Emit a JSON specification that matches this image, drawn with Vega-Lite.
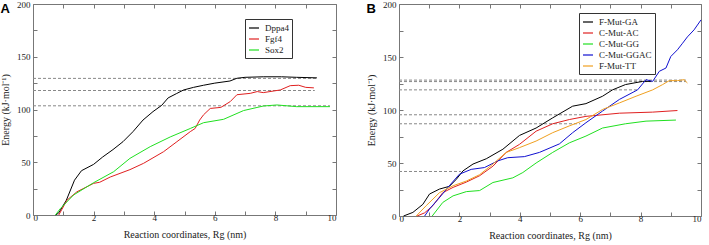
{
  "$schema": "https://vega.github.io/schema/vega-lite/v6.json",
  "background": "white",
  "padding": {"left": 0, "top": -1, "right": 0, "bottom": 0},
  "spacing": 29,
  "resolve": {"scale": {"color": "independent"}, "legend": {"color": "independent"}},
  "config": {
    "font": "Liberation Serif, Times New Roman, serif",
    "view": {"stroke": "#777", "strokeWidth": 1},
    "axis": {
      "grid": false,
      "domain": false,
      "tickColor": "#777",
      "tickSize": -4,
      "labelFont": "Liberation Serif, Times New Roman, serif",
      "labelFontSize": 9,
      "labelColor": "#222",
      "titleFont": "Liberation Serif, Times New Roman, serif",
      "titleFontSize": 10,
      "titleFontWeight": "normal",
      "titleColor": "#222"
    },
    "axisX": {"labelPadding": 2, "titlePadding": 7},
    "axisY": {"labelPadding": 7, "titlePadding": 6},
    "legend": {
      "labelFont": "Liberation Serif, Times New Roman, serif",
      "labelFontSize": 9,
      "labelColor": "#222",
      "symbolType": "stroke",
      "symbolSize": 100,
      "symbolStrokeWidth": 1.2,
      "strokeColor": "#333",
      "fillColor": "white",
      "padding": 3,
      "rowPadding": 0,
      "labelOffset": 5,
      "titleFontSize": 0
    },
    "title": {"font": "Liberation Sans", "fontWeight": "bold", "fontSize": 13, "color": "#000"}
  },
  "datasets": {
    "A": [
      {"s": "Dppa4", "x": 0.75, "y": 0}, {"s": "Dppa4", "x": 0.85, "y": 2}, {"s": "Dppa4", "x": 1.1, "y": 14}, {"s": "Dppa4", "x": 1.37, "y": 33}, {"s": "Dppa4", "x": 1.6, "y": 42}, {"s": "Dppa4", "x": 2.0, "y": 48}, {"s": "Dppa4", "x": 2.3, "y": 55}, {"s": "Dppa4", "x": 2.64, "y": 62}, {"s": "Dppa4", "x": 2.97, "y": 69.5}, {"s": "Dppa4", "x": 3.3, "y": 79}, {"s": "Dppa4", "x": 3.63, "y": 90}, {"s": "Dppa4", "x": 3.96, "y": 98}, {"s": "Dppa4", "x": 4.25, "y": 104}, {"s": "Dppa4", "x": 4.46, "y": 111}, {"s": "Dppa4", "x": 4.73, "y": 115}, {"s": "Dppa4", "x": 4.97, "y": 118.5}, {"s": "Dppa4", "x": 5.3, "y": 121}, {"s": "Dppa4", "x": 5.63, "y": 123}, {"s": "Dppa4", "x": 6.0, "y": 125}, {"s": "Dppa4", "x": 6.5, "y": 127}, {"s": "Dppa4", "x": 6.73, "y": 129.6}, {"s": "Dppa4", "x": 7.0, "y": 130.5}, {"s": "Dppa4", "x": 7.6, "y": 131}, {"s": "Dppa4", "x": 8.2, "y": 131}, {"s": "Dppa4", "x": 8.7, "y": 130.5}, {"s": "Dppa4", "x": 9.37, "y": 130},
      {"s": "Fgf4", "x": 0.85, "y": 0}, {"s": "Fgf4", "x": 1.12, "y": 14}, {"s": "Fgf4", "x": 1.45, "y": 22}, {"s": "Fgf4", "x": 2.0, "y": 30}, {"s": "Fgf4", "x": 2.2, "y": 31}, {"s": "Fgf4", "x": 2.55, "y": 36}, {"s": "Fgf4", "x": 3.2, "y": 43}, {"s": "Fgf4", "x": 3.65, "y": 49}, {"s": "Fgf4", "x": 4.31, "y": 60}, {"s": "Fgf4", "x": 4.75, "y": 69.5}, {"s": "Fgf4", "x": 5.19, "y": 79}, {"s": "Fgf4", "x": 5.35, "y": 82}, {"s": "Fgf4", "x": 5.5, "y": 90}, {"s": "Fgf4", "x": 5.63, "y": 95}, {"s": "Fgf4", "x": 5.85, "y": 101}, {"s": "Fgf4", "x": 6.2, "y": 102}, {"s": "Fgf4", "x": 6.51, "y": 107.5}, {"s": "Fgf4", "x": 6.73, "y": 114}, {"s": "Fgf4", "x": 7.17, "y": 115.3}, {"s": "Fgf4", "x": 7.4, "y": 117}, {"s": "Fgf4", "x": 7.6, "y": 116}, {"s": "Fgf4", "x": 8.16, "y": 118.5}, {"s": "Fgf4", "x": 8.49, "y": 122.6}, {"s": "Fgf4", "x": 8.77, "y": 123}, {"s": "Fgf4", "x": 9.0, "y": 121}, {"s": "Fgf4", "x": 9.27, "y": 120.5},
      {"s": "Sox2", "x": 0.74, "y": 0}, {"s": "Sox2", "x": 0.9, "y": 6}, {"s": "Sox2", "x": 1.34, "y": 19}, {"s": "Sox2", "x": 2.0, "y": 30.6}, {"s": "Sox2", "x": 2.66, "y": 41}, {"s": "Sox2", "x": 3.2, "y": 53.7}, {"s": "Sox2", "x": 3.87, "y": 64.8}, {"s": "Sox2", "x": 4.53, "y": 74}, {"s": "Sox2", "x": 5.19, "y": 82}, {"s": "Sox2", "x": 5.63, "y": 87.5}, {"s": "Sox2", "x": 6.29, "y": 90.7}, {"s": "Sox2", "x": 6.95, "y": 99}, {"s": "Sox2", "x": 7.6, "y": 103.3}, {"s": "Sox2", "x": 8.05, "y": 104.3}, {"s": "Sox2", "x": 8.7, "y": 102.7}, {"s": "Sox2", "x": 9.8, "y": 102.7}
    ],
    "refA": [
      {"x0": 0, "x1": 9.4, "y": 129.5},
      {"x0": 0, "x1": 9.3, "y": 118},
      {"x0": 0, "x1": 9.8, "y": 103.5}
    ],
    "B": [
      {"s": "F-Mut-GA", "x": 0.15, "y": 0}, {"s": "F-Mut-GA", "x": 0.46, "y": 3.4}, {"s": "F-Mut-GA", "x": 0.79, "y": 11}, {"s": "F-Mut-GA", "x": 1.01, "y": 20.7}, {"s": "F-Mut-GA", "x": 1.34, "y": 25.4}, {"s": "F-Mut-GA", "x": 1.67, "y": 28}, {"s": "F-Mut-GA", "x": 1.9, "y": 34.7}, {"s": "F-Mut-GA", "x": 2.12, "y": 42.6}, {"s": "F-Mut-GA", "x": 2.45, "y": 49}, {"s": "F-Mut-GA", "x": 2.89, "y": 54}, {"s": "F-Mut-GA", "x": 3.44, "y": 63}, {"s": "F-Mut-GA", "x": 3.99, "y": 76}, {"s": "F-Mut-GA", "x": 4.54, "y": 83}, {"s": "F-Mut-GA", "x": 5.09, "y": 92.6}, {"s": "F-Mut-GA", "x": 5.75, "y": 103.6}, {"s": "F-Mut-GA", "x": 6.19, "y": 106}, {"s": "F-Mut-GA", "x": 6.74, "y": 113}, {"s": "F-Mut-GA", "x": 7.07, "y": 119}, {"s": "F-Mut-GA", "x": 7.5, "y": 124}, {"s": "F-Mut-GA", "x": 8.07, "y": 127}, {"s": "F-Mut-GA", "x": 8.34, "y": 127},
      {"s": "C-Mut-AC", "x": 0.6, "y": 0}, {"s": "C-Mut-AC", "x": 0.85, "y": 3}, {"s": "C-Mut-AC", "x": 1.12, "y": 9.7}, {"s": "C-Mut-AC", "x": 1.45, "y": 22}, {"s": "C-Mut-AC", "x": 1.79, "y": 27}, {"s": "C-Mut-AC", "x": 2.23, "y": 32}, {"s": "C-Mut-AC", "x": 2.67, "y": 38}, {"s": "C-Mut-AC", "x": 3.11, "y": 47}, {"s": "C-Mut-AC", "x": 3.55, "y": 60}, {"s": "C-Mut-AC", "x": 3.99, "y": 67.6}, {"s": "C-Mut-AC", "x": 4.54, "y": 80}, {"s": "C-Mut-AC", "x": 5.09, "y": 87}, {"s": "C-Mut-AC", "x": 5.64, "y": 91}, {"s": "C-Mut-AC", "x": 6.19, "y": 94}, {"s": "C-Mut-AC", "x": 7.3, "y": 97}, {"s": "C-Mut-AC", "x": 8.4, "y": 98}, {"s": "C-Mut-AC", "x": 9.22, "y": 99.5},
      {"s": "C-Mut-GG", "x": 1.1, "y": 0}, {"s": "C-Mut-GG", "x": 1.45, "y": 12.8}, {"s": "C-Mut-GG", "x": 1.79, "y": 19}, {"s": "C-Mut-GG", "x": 2.23, "y": 23}, {"s": "C-Mut-GG", "x": 2.67, "y": 24}, {"s": "C-Mut-GG", "x": 3.11, "y": 31.6}, {"s": "C-Mut-GG", "x": 3.77, "y": 36}, {"s": "C-Mut-GG", "x": 4.1, "y": 41}, {"s": "C-Mut-GG", "x": 4.54, "y": 50}, {"s": "C-Mut-GG", "x": 5.09, "y": 60}, {"s": "C-Mut-GG", "x": 5.64, "y": 69}, {"s": "C-Mut-GG", "x": 6.19, "y": 75.4}, {"s": "C-Mut-GG", "x": 6.74, "y": 83}, {"s": "C-Mut-GG", "x": 7.5, "y": 87}, {"s": "C-Mut-GG", "x": 8.18, "y": 89.5}, {"s": "C-Mut-GG", "x": 9.17, "y": 90.5},
      {"s": "C-Mut-GGAC", "x": 0.85, "y": 0}, {"s": "C-Mut-GGAC", "x": 1.01, "y": 6.6}, {"s": "C-Mut-GGAC", "x": 1.39, "y": 19}, {"s": "C-Mut-GGAC", "x": 1.62, "y": 27}, {"s": "C-Mut-GGAC", "x": 2.0, "y": 39.4}, {"s": "C-Mut-GGAC", "x": 2.39, "y": 44}, {"s": "C-Mut-GGAC", "x": 2.83, "y": 45.7}, {"s": "C-Mut-GGAC", "x": 3.27, "y": 52}, {"s": "C-Mut-GGAC", "x": 3.6, "y": 55}, {"s": "C-Mut-GGAC", "x": 4.15, "y": 56}, {"s": "C-Mut-GGAC", "x": 4.65, "y": 60}, {"s": "C-Mut-GGAC", "x": 5.31, "y": 68}, {"s": "C-Mut-GGAC", "x": 5.75, "y": 78.6}, {"s": "C-Mut-GGAC", "x": 6.19, "y": 88}, {"s": "C-Mut-GGAC", "x": 6.74, "y": 99}, {"s": "C-Mut-GGAC", "x": 7.3, "y": 110}, {"s": "C-Mut-GGAC", "x": 7.9, "y": 119}, {"s": "C-Mut-GGAC", "x": 8.18, "y": 128.6}, {"s": "C-Mut-GGAC", "x": 8.4, "y": 127}, {"s": "C-Mut-GGAC", "x": 8.62, "y": 136.5}, {"s": "C-Mut-GGAC", "x": 8.84, "y": 139.6}, {"s": "C-Mut-GGAC", "x": 9.0, "y": 150.5}, {"s": "C-Mut-GGAC", "x": 9.22, "y": 156.8}, {"s": "C-Mut-GGAC", "x": 9.39, "y": 163}, {"s": "C-Mut-GGAC", "x": 9.55, "y": 169}, {"s": "C-Mut-GGAC", "x": 9.77, "y": 175.6}, {"s": "C-Mut-GGAC", "x": 10.0, "y": 185},
      {"s": "F-Mut-TT", "x": 0.57, "y": 0}, {"s": "F-Mut-TT", "x": 0.9, "y": 9.7}, {"s": "F-Mut-TT", "x": 1.34, "y": 22}, {"s": "F-Mut-TT", "x": 1.79, "y": 28.5}, {"s": "F-Mut-TT", "x": 2.23, "y": 33}, {"s": "F-Mut-TT", "x": 2.67, "y": 39}, {"s": "F-Mut-TT", "x": 3.11, "y": 49}, {"s": "F-Mut-TT", "x": 3.55, "y": 60}, {"s": "F-Mut-TT", "x": 3.99, "y": 64.5}, {"s": "F-Mut-TT", "x": 4.54, "y": 70.7}, {"s": "F-Mut-TT", "x": 5.09, "y": 78.6}, {"s": "F-Mut-TT", "x": 5.64, "y": 85}, {"s": "F-Mut-TT", "x": 6.19, "y": 91}, {"s": "F-Mut-TT", "x": 6.74, "y": 100.5}, {"s": "F-Mut-TT", "x": 7.3, "y": 106.7}, {"s": "F-Mut-TT", "x": 7.85, "y": 113}, {"s": "F-Mut-TT", "x": 8.4, "y": 119}, {"s": "F-Mut-TT", "x": 8.73, "y": 124}, {"s": "F-Mut-TT", "x": 8.95, "y": 127.7}, {"s": "F-Mut-TT", "x": 9.22, "y": 127.7}, {"s": "F-Mut-TT", "x": 9.44, "y": 128.6}, {"s": "F-Mut-TT", "x": 9.55, "y": 125.5}
    ],
    "refB": [
      {"x0": 0, "x1": 9.5, "y": 128.2},
      {"x0": 0, "x1": 9.5, "y": 126.8},
      {"x0": 0, "x1": 7.9, "y": 119},
      {"x0": 0, "x1": 6.2, "y": 95.5},
      {"x0": 0, "x1": 6.0, "y": 87},
      {"x0": 0, "x1": 2.05, "y": 42}
    ]
  },
  "hconcat": [
    {
      "width": 303,
      "height": 211,
      "title": {"text": "A", "anchor": "start", "frame": "bounds", "offset": -16},
      "resolve": {"axis": {"x": "independent", "y": "independent"}},
      "layer": [
        {
          "data": {"name": "refA"},
          "mark": {"type": "rule", "color": "#888", "strokeWidth": 1, "strokeDash": [3, 2]},
          "encoding": {
            "x": {"field": "x0", "type": "quantitative", "scale": {"domain": [0, 10]}, "axis": {"orient": "top", "values": [0,1,2,3,4,5,6,7,8,9,10], "labels": false, "title": null}},
            "x2": {"field": "x1"},
            "y": {"field": "y", "type": "quantitative", "scale": {"domain": [0, 200]}, "axis": {"orient": "right", "values": [0,25,50,75,100,125,150,175,200], "labels": false, "title": null}}
          }
        },
        {
          "data": {"name": "A"},
          "mark": {"type": "line", "strokeWidth": 1},
          "encoding": {
            "x": {"field": "x", "type": "quantitative", "scale": {"domain": [0, 10]}, "axis": {"orient": "bottom", "values": [0,1,2,3,4,5,6,7,8,9,10], "labelExpr": "datum.value % 2 == 0 ? datum.label : ''", "title": "Reaction coordinates, Rg (nm)"}},
            "y": {"field": "y", "type": "quantitative", "scale": {"domain": [0, 200]}, "axis": {"orient": "left", "values": [0,25,50,75,100,125,150,175,200], "labelExpr": "datum.value % 50 == 0 ? datum.label : ''", "title": "Energy (kJ·mol⁻¹)"}},
            "color": {"field": "s", "type": "nominal", "scale": {"domain": ["Dppa4", "Fgf4", "Sox2"], "range": ["#000000", "#e02020", "#20e020"]}, "legend": {"orient": "none", "legendX": 212, "legendY": 15, "title": null}}
          }
        }
      ]
    },
    {
      "width": 302,
      "height": 212,
      "title": {"text": "B", "anchor": "start", "frame": "bounds", "offset": -16},
      "resolve": {"axis": {"x": "independent", "y": "independent"}},
      "layer": [
        {
          "data": {"name": "refB"},
          "mark": {"type": "rule", "color": "#888", "strokeWidth": 1, "strokeDash": [3, 2]},
          "encoding": {
            "x": {"field": "x0", "type": "quantitative", "scale": {"domain": [0, 10]}, "axis": {"orient": "top", "values": [0,1,2,3,4,5,6,7,8,9,10], "labels": false, "title": null}},
            "x2": {"field": "x1"},
            "y": {"field": "y", "type": "quantitative", "scale": {"domain": [0, 200]}, "axis": {"orient": "right", "values": [0,25,50,75,100,125,150,175,200], "labels": false, "title": null}}
          }
        },
        {
          "data": {"name": "B"},
          "mark": {"type": "line", "strokeWidth": 1},
          "encoding": {
            "x": {"field": "x", "type": "quantitative", "scale": {"domain": [0, 10]}, "axis": {"orient": "bottom", "values": [0,1,2,3,4,5,6,7,8,9,10], "labelExpr": "datum.value % 2 == 0 ? datum.label : ''", "title": "Reaction coordinates, Rg (nm)"}},
            "y": {"field": "y", "type": "quantitative", "scale": {"domain": [0, 200]}, "axis": {"orient": "left", "values": [0,25,50,75,100,125,150,175,200], "labelExpr": "datum.value % 50 == 0 ? datum.label : ''", "title": "Energy (kJ·mol⁻¹)"}},
            "color": {"field": "s", "type": "nominal", "scale": {"domain": ["F-Mut-GA", "C-Mut-AC", "C-Mut-GG", "C-Mut-GGAC", "F-Mut-TT"], "range": ["#000000", "#e02020", "#20e020", "#1010d0", "#f0a020"]}, "legend": {"orient": "none", "legendX": 180, "legendY": 9, "title": null}}
          }
        }
      ]
    }
  ]
}
